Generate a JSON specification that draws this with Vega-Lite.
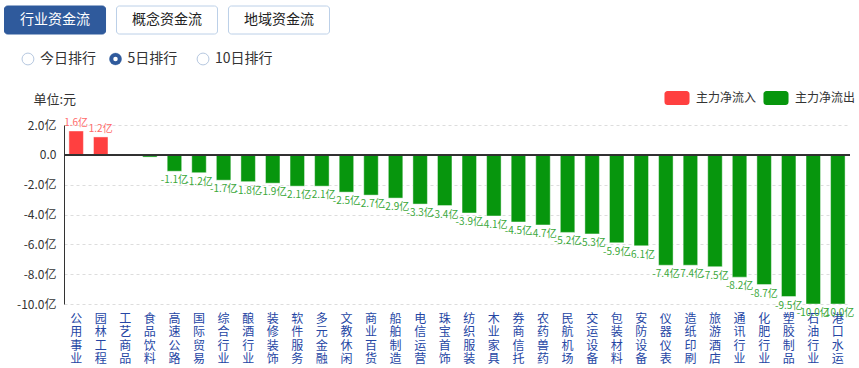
{
  "$schema": "https://vega.github.io/schema/vega-lite/v6.json",
  "padding": {"left": 4, "top": 5, "right": 0, "bottom": 0},
  "background": "white",
  "config": {"view": {"stroke": null}, "font": "Noto Sans CJK SC", "axis": {"labelOverlap": false, "labelSeparation": 0}},
  "spacing": 16,
  "resolve": {"legend": {"color": "independent"}, "scale": {"color": "independent"}},
  "vconcat": [
    {
      "width": 325,
      "height": 28,
      "data": {"values": [
        {"tab": "行业资金流", "sel": true},
        {"tab": "概念资金流", "sel": false},
        {"tab": "地域资金流", "sel": false}
      ]},
      "encoding": {"x": {"field": "tab", "type": "nominal", "sort": null, "scale": {"paddingInner": 0.098, "paddingOuter": 0}, "axis": null}},
      "layer": [
        {"mark": {"type": "rect", "cornerRadius": 3, "strokeWidth": 1, "xOffset": -59.5},
         "encoding": {
           "fill": {"condition": {"test": "datum.sel", "value": "#2f5a9c"}, "value": "#ffffff"},
           "stroke": {"condition": {"test": "datum.sel", "value": "#2f5a9c"}, "value": "#bcd0e8"}
         }},
        {"mark": {"type": "text", "fontSize": 14, "baseline": "middle", "xOffset": -59.5},
         "encoding": {
           "text": {"field": "tab"},
           "color": {"condition": {"test": "datum.sel", "value": "#ffffff"}, "value": "#222222"}
         }}
      ]
    },
    {
      "spacing": 24,
      "resolve": {"legend": {"color": "independent"}, "scale": {"color": "independent"}},
      "vconcat": [
        {
          "width": 222,
          "height": 16,
          "data": {"values": [
            {"opt": "今日排行", "sel": false},
            {"opt": "5日排行", "sel": true},
            {"opt": "10日排行", "sel": false}
          ]},
          "encoding": {"x": {"field": "opt", "type": "nominal", "sort": null, "scale": {"type": "point", "padding": 0.268}, "axis": null}},
          "layer": [
            {"mark": {"type": "point", "shape": "circle", "filled": true, "fill": "#ffffff", "stroke": "#b6c8e0", "strokeWidth": 1, "size": 140, "opacity": 1, "xOffset": -59.5}},
            {"transform": [{"filter": "datum.sel"}],
             "mark": {"type": "point", "shape": "circle", "filled": true, "color": "#2f5a9c", "size": 150, "opacity": 1, "xOffset": -59.5}},
            {"transform": [{"filter": "datum.sel"}],
             "mark": {"type": "point", "shape": "circle", "filled": true, "color": "#ffffff", "size": 20, "opacity": 1, "xOffset": -59.5}},
            {"mark": {"type": "text", "align": "left", "baseline": "middle", "dx": 12, "fontSize": 14, "color": "#333333", "xOffset": -59.5},
             "encoding": {"text": {"field": "opt"}}}
          ]
        },
        {
          "width": 786,
          "height": 179,
          "data": {"values": [
            {"name": "公用事业", "value": 1.6, "type": "主力净流入"},
            {"name": "园林工程", "value": 1.2, "type": "主力净流入"},
            {"name": "工艺商品", "value": 0.01, "type": "主力净流入"},
            {"name": "食品饮料", "value": -0.15, "type": "主力净流出"},
            {"name": "高速公路", "value": -1.1, "type": "主力净流出"},
            {"name": "国际贸易", "value": -1.2, "type": "主力净流出"},
            {"name": "综合行业", "value": -1.7, "type": "主力净流出"},
            {"name": "酿酒行业", "value": -1.8, "type": "主力净流出"},
            {"name": "装修装饰", "value": -1.9, "type": "主力净流出"},
            {"name": "软件服务", "value": -2.1, "type": "主力净流出"},
            {"name": "多元金融", "value": -2.1, "type": "主力净流出"},
            {"name": "文教休闲", "value": -2.5, "type": "主力净流出"},
            {"name": "商业百货", "value": -2.7, "type": "主力净流出"},
            {"name": "船舶制造", "value": -2.9, "type": "主力净流出"},
            {"name": "电信运营", "value": -3.3, "type": "主力净流出"},
            {"name": "珠宝首饰", "value": -3.4, "type": "主力净流出"},
            {"name": "纺织服装", "value": -3.9, "type": "主力净流出"},
            {"name": "木业家具", "value": -4.1, "type": "主力净流出"},
            {"name": "券商信托", "value": -4.5, "type": "主力净流出"},
            {"name": "农药兽药", "value": -4.7, "type": "主力净流出"},
            {"name": "民航机场", "value": -5.2, "type": "主力净流出"},
            {"name": "交运设备", "value": -5.3, "type": "主力净流出"},
            {"name": "包装材料", "value": -5.9, "type": "主力净流出"},
            {"name": "安防设备", "value": -6.1, "type": "主力净流出"},
            {"name": "仪器仪表", "value": -7.4, "type": "主力净流出"},
            {"name": "造纸印刷", "value": -7.4, "type": "主力净流出"},
            {"name": "旅游酒店", "value": -7.5, "type": "主力净流出"},
            {"name": "通讯行业", "value": -8.2, "type": "主力净流出"},
            {"name": "化肥行业", "value": -8.7, "type": "主力净流出"},
            {"name": "塑胶制品", "value": -9.5, "type": "主力净流出"},
            {"name": "石油行业", "value": -10.0, "type": "主力净流出"},
            {"name": "港口水运", "value": -10.0, "type": "主力净流出"}
          ]},
          "encoding": {
            "x": {"field": "name", "type": "nominal", "sort": null,
                  "scale": {"paddingInner": 0.41, "paddingOuter": 0.2},
                  "axis": {"title": null, "domain": false, "ticks": false, "labelAngle": 0,
                           "labelExpr": "split(datum.label, '')", "labelBaseline": "top", "labelAlign": "center",
                           "labelFontSize": 12, "labelLineHeight": 13.5, "labelColor": "#2546a4",
                           "labelPadding": 9, "labelOverlap": false, "labelLimit": 0}},
            "y": {"field": "value", "type": "quantitative",
                  "scale": {"domain": [-10, 2], "nice": false},
                  "axis": {"values": [-10, -8, -6, -4, -2, 0, 2], "tickCount": 7,
                           "labelExpr": "datum.value == 0 ? '0.0' : replace(format(datum.value, '.1f'), '\u2212', '-') + '亿'",
                           "ticks": false, "labelPadding": 8, "labelFontSize": 12, "labelColor": "#333333",
                           "labelOverlap": false, "labelFlush": false,
                           "domainColor": "#333333", "grid": true, "gridDash": [3, 3], "gridColor": "#dddddd",
                           "minExtent": 60,
                           "title": "单位:元", "titleAngle": 0, "titleAlign": "left", "titleBaseline": "middle",
                           "titleX": -31, "titleY": -26, "titleFontSize": 13, "titleFontWeight": "normal",
                           "titleColor": "#333333"}}
          },
          "layer": [
            {
              "mark": {"type": "bar", "stroke": "#ffffff", "strokeOpacity": 0.45, "strokeWidth": 1},
              "encoding": {
                "color": {"field": "type", "type": "nominal",
                          "scale": {"domain": ["主力净流入", "主力净流出"], "range": ["#ff4040", "#07960d"]},
                          "legend": {"orient": "none", "legendX": 606, "legendY": -34, "direction": "horizontal",
                                     "title": null,
                                     "symbolType": "M-1.36,-1H1.36A0.43,0.43 0 0 1 1.79,-0.57V0.57A0.43,0.43 0 0 1 1.36,1H-1.36A0.43,0.43 0 0 1 -1.79,0.57V-0.57A0.43,0.43 0 0 1 -1.36,-1Z",
                                     "symbolSize": 196, "symbolStrokeWidth": 0, "symbolOpacity": 1,
                                     "labelFontSize": 12, "labelColor": "#333333", "labelOffset": 12,
                                     "columnPadding": 6, "padding": 0}}
              }
            },
            {
              "mark": {"type": "rule", "color": "#333333", "strokeWidth": 1},
              "encoding": {"x": {"value": 0}, "x2": {"value": "width"}, "y": {"datum": 0}}
            },
            {
              "transform": [{"filter": "datum.value >= 0.5"}, {"calculate": "format(datum.value, '.1f') + '亿'", "as": "label"}],
              "mark": {"type": "text", "baseline": "bottom", "dy": -3, "fontSize": 10, "color": "#ff6a6a"},
              "encoding": {"text": {"field": "label"}}
            },
            {
              "transform": [{"filter": "datum.value <= -0.5"}, {"calculate": "replace(format(datum.value, '.1f'), '\u2212', '-') + '亿'", "as": "label"}],
              "mark": {"type": "text", "baseline": "top", "dy": 4, "fontSize": 10, "color": "#3aa83a"},
              "encoding": {"text": {"field": "label"}}
            }
          ]
        }
      ]
    }
  ]
}
